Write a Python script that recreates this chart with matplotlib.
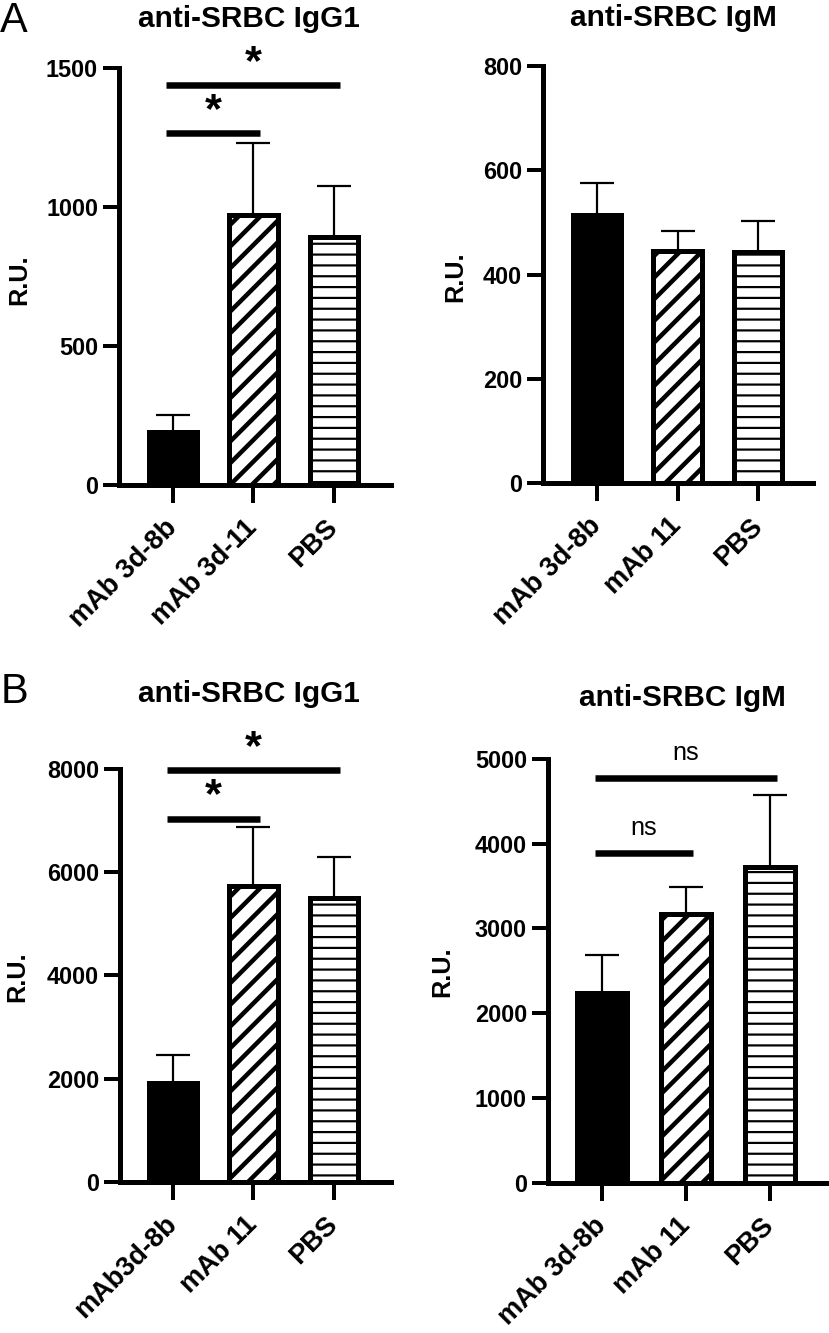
import numpy as np
import matplotlib
matplotlib.use("Agg")
import matplotlib.pyplot as plt
import matplotlib.transforms as mtransforms

# ---------------- data ----------------
groups_A_igg = ["mAb 3d-8b", "mAb 3d-11", "PBS"]
groups_A_igm = ["mAb 3d-8b", "mAb 11", "PBS"]
groups_B_igg = ["mAb3d-8b", "mAb 11", "PBS"]
groups_B_igm = ["mAb 3d-8b", "mAb 11", "PBS"]

A_igg_mean = [191, 969, 891]
A_igg_sem = [60, 259, 182]
A_igm_mean = [514, 446, 444]
A_igm_sem = [62, 38, 58]
B_igg_mean = [1922, 5734, 5490]
B_igg_sem = [538, 1136, 810]
B_igm_mean = [2240, 3169, 3729]
B_igm_sem = [442, 325, 847]

A_igg_ticks = [0, 500, 1000, 1500]
A_igm_ticks = [0, 200, 400, 600, 800]
B_igg_ticks = [0, 2000, 4000, 6000, 8000]
B_igm_ticks = [0, 1000, 2000, 3000, 4000, 5000]

# significance comparisons: (group i, group j, height, label)
A_igg_sig = [(0, 1, 1264, "*"), (0, 2, 1437, "*")]
B_igg_sig = [(0, 1, 7040, "*"), (0, 2, 7975, "*")]
B_igm_sig = [(0, 1, 3887, "ns"), (0, 2, 4781, "ns")]

# ---------------- style ----------------
DPI = 130
W, H = 829, 1333
PX = 72.0 / DPI  # points per pixel

plt.rcParams['font.family'] = ['Liberation Sans', 'DejaVu Sans']
plt.rcParams['hatch.color'] = 'black'

fig = plt.figure(figsize=(W / DPI, H / DPI), dpi=DPI)


def axes_px(x0, x1, y_bottom, y_top):
    return fig.add_axes([x0 / W, (H - y_bottom) / H, (x1 - x0) / W, (y_bottom - y_top) / H])


fills = ['black', 'white', 'white']
hatches = [None, '//', '--']
hatch_lw = [1.0, 4.5 * PX, 2.2 * PX]


def panel(ax, labels, means, sems, ticks, xlim, sig=None):
    x = np.arange(len(labels))
    ax.errorbar(x, means, yerr=[np.zeros(len(sems)), sems], fmt='none', ecolor='black',
                elinewidth=2.2 * PX, capsize=17 * PX, capthick=2.2 * PX, zorder=1)
    bars = ax.bar(x, means, width=0.6, color=fills, edgecolor='black',
                  linewidth=5 * PX, zorder=2)
    for b, h, hl in zip(bars, hatches, hatch_lw):
        if h:
            b.set_hatch(h)
            try:
                b.set_hatch_linewidth(hl)
            except AttributeError:
                pass
    ax.set_ylim(ticks[0], ticks[-1])
    ax.set_xlim(*xlim)
    ax.set_yticks(ticks)
    ax.set_yticklabels([str(t) for t in ticks], fontsize=13, fontweight='bold')
    ax.set_xticks(x)
    ax.set_xticklabels(labels, rotation=45, ha='right', va='center', rotation_mode='anchor',
                       fontsize=15, fontweight='bold')
    offset = mtransforms.ScaledTranslation(7 / DPI, 0, fig.dpi_scale_trans)
    for lab in ax.get_xticklabels():
        lab.set_transform(lab.get_transform() + offset)
    for s in ['top', 'right']:
        ax.spines[s].set_visible(False)
    for s in ['left', 'bottom']:
        ax.spines[s].set_linewidth(5 * PX)
        ax.spines[s].set_capstyle('projecting')
    ax.tick_params(axis='y', length=16 * PX, width=4 * PX, pad=5 * PX)
    ax.tick_params(axis='x', length=18 * PX, width=4 * PX, pad=21 * PX)
    if sig:
        for i, j, yv, txt in sig:
            ax.plot([i - 0.08, j + 0.08], [yv, yv], color='black', lw=6.5 * PX,
                    solid_capstyle='butt', clip_on=False, zorder=3)
            if txt == '*':
                ax.annotate(txt, xy=((i + j) / 2, yv), xytext=(0, 22 * PX),
                            textcoords='offset points', ha='center', va='center',
                            fontsize=24, fontweight='bold', annotation_clip=False)
            else:
                ax.annotate(txt, xy=((i + j) / 2, yv), xytext=(0, 25 * PX),
                            textcoords='offset points', ha='center', va='center',
                            fontsize=14, annotation_clip=False)


# Panel A left
ax1 = axes_px(119, 391, 485, 67.7)
panel(ax1, groups_A_igg, A_igg_mean, A_igg_sem, A_igg_ticks, (-0.67, 2.71), A_igg_sig)
# Panel A right
ax2 = axes_px(543, 813, 483.3, 66)
panel(ax2, groups_A_igm, A_igm_mean, A_igm_sem, A_igm_ticks, (-0.67, 2.68))
# Panel B left
ax3 = axes_px(120, 391, 1181.7, 769)
panel(ax3, groups_B_igg, B_igg_mean, B_igg_sem, B_igg_ticks, (-0.66, 2.71), B_igg_sig)
# Panel B right
ax4 = axes_px(548, 828, 1182.7, 759)
panel(ax4, groups_B_igm, B_igm_mean, B_igm_sem, B_igm_ticks, (-0.64, 2.69), B_igm_sig)


def ftext(xp, yp, s, **kw):
    fig.text(xp / W, 1 - yp / H, s, **kw)


title_kw = dict(fontsize=16.5, fontweight='bold', ha='center', va='center')
ftext(249, 19, "anti-SRBC IgG1", **title_kw)
ftext(673, 18, "anti-SRBC IgM", **title_kw)
ftext(249, 694, "anti-SRBC IgG1", **title_kw)
ftext(682, 698, "anti-SRBC IgM", **title_kw)

yl_kw = dict(fontsize=14, fontweight='bold', ha='center', va='center', rotation=90)
ftext(19, 280, "R.U.", **yl_kw)
ftext(455, 277, "R.U.", **yl_kw)
ftext(17, 977, "R.U.", **yl_kw)
ftext(442, 972, "R.U.", **yl_kw)

ftext(0, 1, "A", fontsize=23, ha='left', va='top')
ftext(1, 672, "B", fontsize=23, ha='left', va='top')

fig.savefig("out.png", dpi=DPI)
